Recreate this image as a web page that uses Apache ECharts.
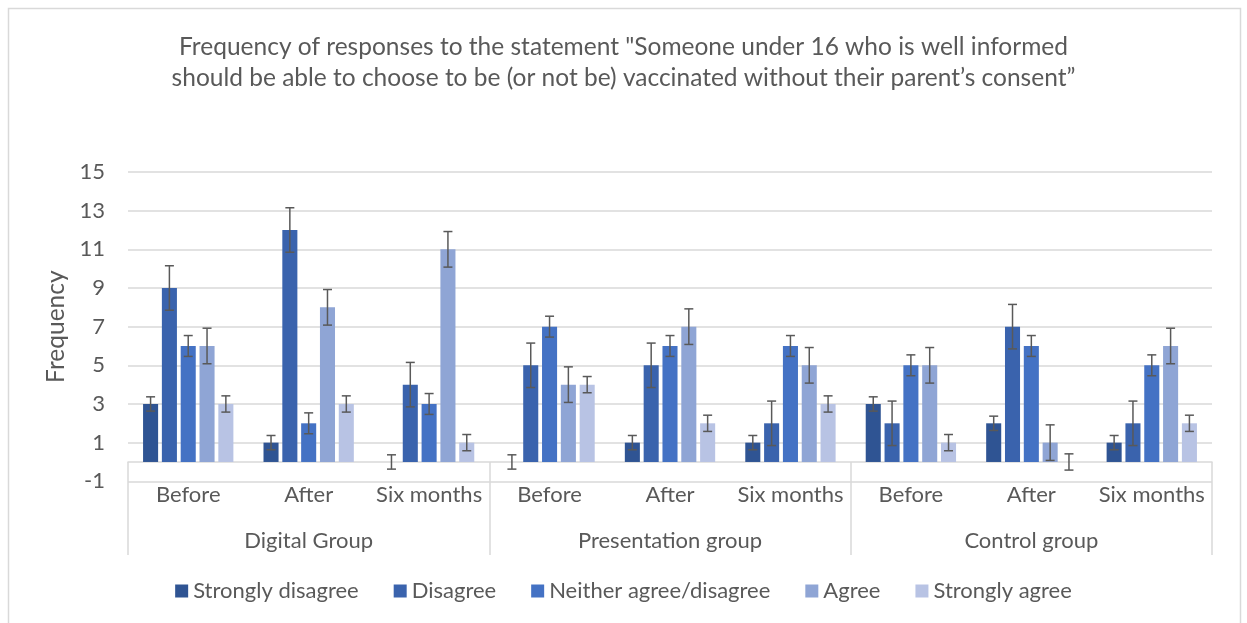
<!DOCTYPE html>
<html>
<head>
<meta charset="utf-8">
<script src="https://cdn.jsdelivr.net/npm/echarts@6/dist/echarts.min.js"></script>
<style>
html,body{margin:0;padding:0;background:#fff;}
#chart{width:1247px;height:623px;}
</style>
</head>
<body>
<div id="chart"></div>
<script>
// ---- data ----
const subCategories = ['Before','After','Six months','Before','After','Six months','Before','After','Six months'];
const groups = ['Digital Group','Presentation group','Control group'];
const seriesNames = ['Strongly disagree','Disagree','Neither agree/disagree','Agree','Strongly agree'];
const stronglyDisagree = [3, 1, 0, 0, 1, 1, 3, 2, 1];
const disagree         = [9, 12, 4, 5, 5, 2, 2, 7, 2];
const neitherAgree     = [6, 2, 3, 7, 6, 6, 5, 6, 5];
const agree            = [6, 8, 11, 4, 7, 5, 5, 1, 6];
const stronglyAgree    = [3, 3, 1, 4, 2, 3, 1, 0, 2];
const errorMargins     = [0.37, 1.15, 0.54, 0.92, 0.42];
const yMin = -1, yMax = 15, yStep = 2;
const titleLines = ['Frequency of responses to the statement "Someone under 16 who is well informed',
                    'should be able to choose to be (or not be) vaccinated without their parent\u2019s consent\u201d'];

// ---- styles ----
const colors = ['#2F5493', '#3A63AD', '#4472C4', '#8FA5D5', '#B8C3E4'];
const FONT = 'Lato';
const TXT = '#595959';
const GRIDC = '#D9D9D9';

const allSeries = [stronglyDisagree, disagree, neitherAgree, agree, stronglyAgree];
const CAT_GAP = 0.25, BAR_GAP = 0.25;

const errData = [];
allSeries.forEach((vals, s) => {
  vals.forEach((v, c) => {
    errData.push([c, s, v - errorMargins[s], v + errorMargins[s]]);
  });
});

const series = allSeries.map((vals, i) => ({
  name: seriesNames[i],
  type: 'bar',
  xAxisIndex: 0,
  data: vals,
  barCategoryGap: (CAT_GAP * 100) + '%',
  barGap: (BAR_GAP * 100) + '%',
  itemStyle: { color: colors[i] },
  emphasis: { disabled: true }
}));

series.push({
  type: 'custom',
  xAxisIndex: 0,
  z: 10,
  data: errData,
  encode: { x: 0, y: [2, 3] },
  renderItem: function (params, api) {
    const c = api.value(0), s = api.value(1), lo = api.value(2), hi = api.value(3);
    const band = api.size([1, 0])[0];
    const n = allSeries.length;
    const bw = band * (1 - CAT_GAP) / (n + (n - 1) * BAR_GAP);
    const off = (s - (n - 1) / 2) * bw * (1 + BAR_GAP);
    const pHi = api.coord([c, hi]);
    const pLo = api.coord([c, lo]);
    const x = pHi[0] + off;
    const cap = 4.5;
    const st = { stroke: TXT, lineWidth: 1.5 };
    return {
      type: 'group',
      children: [
        { type: 'line', shape: { x1: x, y1: pHi[1], x2: x, y2: pLo[1] }, style: st },
        { type: 'line', shape: { x1: x - cap, y1: pHi[1], x2: x + cap, y2: pHi[1] }, style: st },
        { type: 'line', shape: { x1: x - cap, y1: pLo[1], x2: x + cap, y2: pLo[1] }, style: st }
      ]
    };
  }
});

const chart = echarts.init(document.getElementById('chart'), null, { renderer: 'canvas' });
chart.setOption({
  animation: false,
  backgroundColor: '#fff',
  textStyle: { fontFamily: FONT },
  graphic: [{
    type: 'rect',
    shape: { x: 8.5, y: 8.5, width: 1232, height: 650 },
    style: { fill: 'none', stroke: GRIDC, lineWidth: 1.5 },
    silent: true
  }],
  title: {
    text: titleLines.join('\n'),
    left: 'center',
    top: 27,
    textStyle: { fontFamily: FONT, fontSize: 24.5, fontWeight: 'normal', color: TXT, lineHeight: 31 }
  },
  legend: {
    data: seriesNames,
    bottom: 16,
    left: 'center',
    icon: 'rect',
    itemWidth: 13,
    itemHeight: 13,
    itemGap: 35,
    textStyle: { fontFamily: FONT, fontSize: 22, color: TXT }
  },
  grid: { left: 128, right: 35, top: 172, bottom: 141.7, containLabel: false },
  xAxis: [{
    type: 'category',
    data: subCategories,
    position: 'bottom',
    axisLine: { show: false },
    axisTick: { show: false },
    splitLine: { show: false },
    axisLabel: { interval: 0, fontFamily: FONT, fontSize: 22, color: TXT, margin: 3 }
  }, {
    type: 'category',
    data: groups,
    position: 'bottom',
    offset: -19.3,
    axisLine: { show: true, onZero: false, lineStyle: { color: GRIDC, width: 1.5 } },
    axisTick: { show: true, interval: 0, length: 93, lineStyle: { color: GRIDC, width: 1.5 } },
    axisLabel: { interval: 0, fontFamily: FONT, fontSize: 22, color: TXT, margin: 68 }
  }],
  yAxis: {
    type: 'value',
    min: yMin,
    max: yMax,
    interval: yStep,
    name: 'Frequency',
    nameLocation: 'middle',
    nameRotate: 90,
    nameGap: 55,
    nameTextStyle: { fontFamily: FONT, fontSize: 24.5, color: TXT },
    axisLine: { show: false },
    axisTick: { show: false },
    axisLabel: { fontFamily: FONT, fontSize: 22, color: TXT, margin: 23 },
    splitLine: { show: true, lineStyle: { color: GRIDC, width: 1.5 } }
  },
  series: series
});
</script>
</body>
</html>
